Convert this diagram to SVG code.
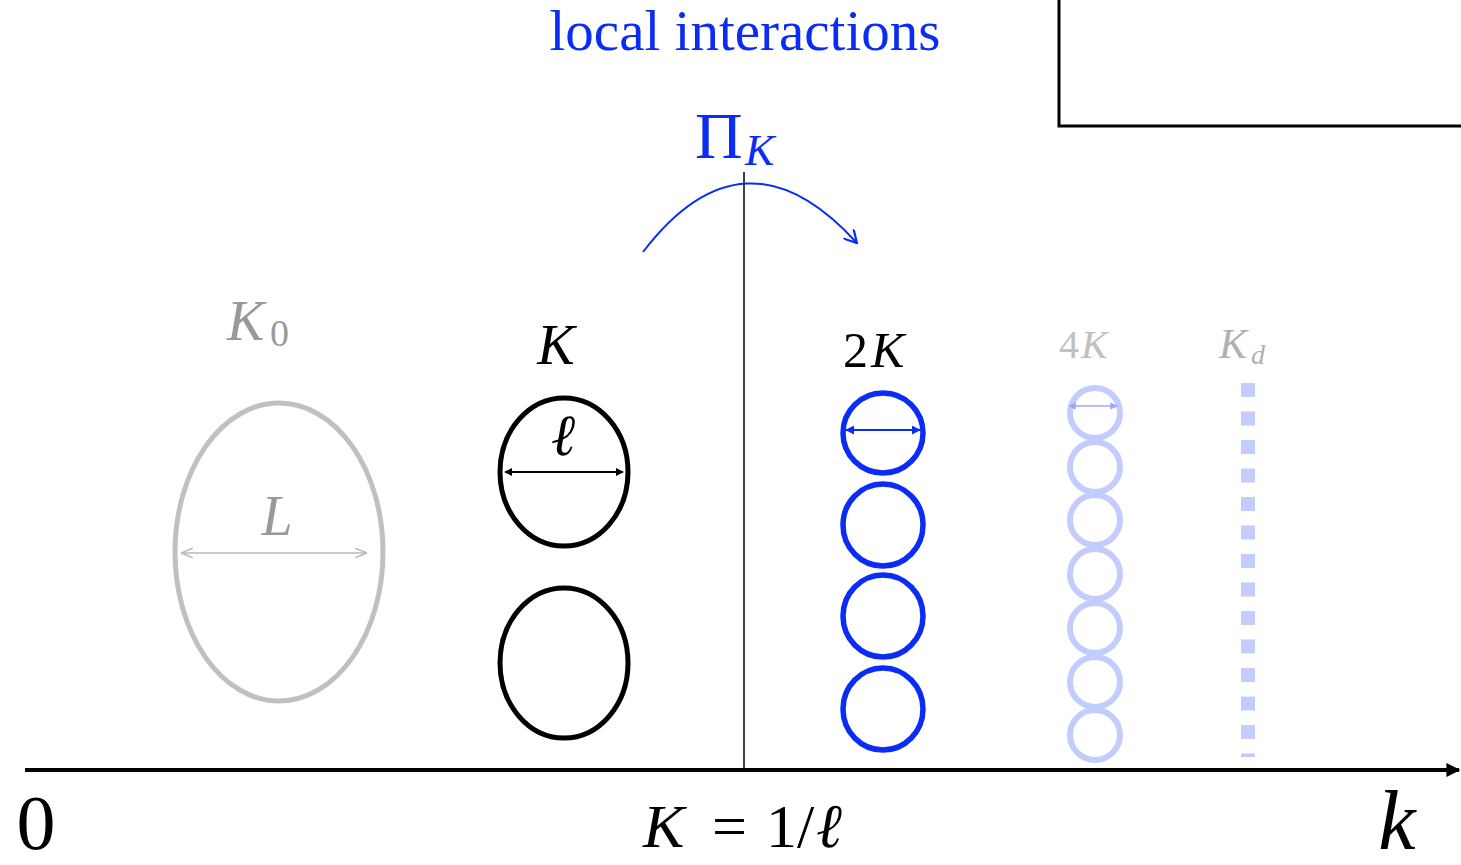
<svg xmlns="http://www.w3.org/2000/svg" width="1461" height="865" viewBox="0 0 1461 865">
<style>
.serif{font-family:"Liberation Serif","DejaVu Serif",serif}
.it{font-style:italic}
.grey{fill:#999}
.blue{fill:#0a2cf5}
</style>
<defs>
<marker id="ahBlack" viewBox="0 0 10 10" refX="9" refY="5" markerWidth="4" markerHeight="4" orient="auto-start-reverse"><path d="M0,0 L10,5 L0,10 z" fill="#000"/></marker>
<marker id="ahGrey" viewBox="0 0 10 10" refX="9" refY="5" markerWidth="8" markerHeight="8" orient="auto-start-reverse"><path d="M0,1 L10,5 L0,9" fill="none" stroke="#b8b8b8" stroke-width="1.2"/></marker>
<marker id="ahBlue" viewBox="0 0 10 10" refX="9" refY="5" markerWidth="4.5" markerHeight="4.5" orient="auto-start-reverse"><path d="M0,0 L10,5 L0,10 z" fill="#0a2cf5"/></marker>
<marker id="ahLight" viewBox="0 0 10 10" refX="9" refY="5" markerWidth="5" markerHeight="5" orient="auto-start-reverse"><path d="M0,0 L10,5 L0,10 z" fill="#9aa6ff"/></marker>
<marker id="ahArc" viewBox="0 0 10 10" refX="8" refY="5" markerWidth="7" markerHeight="7" orient="auto"><path d="M0,0 L9,5 L0,10" fill="none" stroke="#0a2cf5" stroke-width="1.6"/></marker>
<marker id="ahAxis" viewBox="0 0 10 10" refX="9" refY="5" markerWidth="3.5" markerHeight="3.5" orient="auto"><path d="M0,0 L10,5 L0,10 z" fill="#000"/></marker>
</defs>
<rect width="1461" height="865" fill="#fff"/>

<g id="title">
<text class="serif" x="745" y="50" font-size="57" text-anchor="middle" fill="#0a2cf5">local interactions</text>
</g>

<g id="box">
<rect x="1059" y="-10" width="420" height="136" fill="none" stroke="#000" stroke-width="3"/>
</g>

<g id="connectors">
<line x1="25" y1="770" x2="1459" y2="770" stroke="#000" stroke-width="4" marker-end="url(#ahAxis)"/>
<line x1="744" y1="172" x2="744" y2="770" stroke="#000" stroke-width="1.5"/>
<path d="M643,252 Q744,120 856,242" fill="none" stroke="#0a2cf5" stroke-width="2" marker-end="url(#ahArc)"/>
</g>

<g id="pik">
<text class="serif blue" x="695" y="158" font-size="66">Π</text>
<text class="serif it blue" x="745" y="165" font-size="44">K</text>
</g>

<g id="k0">
<text class="serif it grey" x="227" y="340" font-size="56">K</text>
<text class="serif grey" x="270" y="346" font-size="38">0</text>
<ellipse cx="279" cy="552" rx="104" ry="149" fill="none" stroke="#c0c0c0" stroke-width="5"/>
<line x1="182" y1="553" x2="366" y2="553" stroke="#b8b8b8" stroke-width="1.5" marker-start="url(#ahGrey)" marker-end="url(#ahGrey)"/>
<text class="serif it grey" x="277" y="535" font-size="56" text-anchor="middle">L</text>
</g>

<g id="kcells">
<text class="serif it" x="556" y="364" font-size="56" text-anchor="middle">K</text>
<ellipse cx="564" cy="472" rx="64" ry="74" fill="none" stroke="#000" stroke-width="5"/>
<line x1="505" y1="472" x2="623" y2="472" stroke="#000" stroke-width="2" marker-start="url(#ahBlack)" marker-end="url(#ahBlack)"/>
<text class="serif it" x="563" y="455" font-size="58" text-anchor="middle">ℓ</text>
<ellipse cx="564" cy="663" rx="64" ry="75" fill="none" stroke="#000" stroke-width="5"/>
</g>

<g id="k2cells">
<text class="serif" x="843" y="367" font-size="50">2<tspan class="it" dx="3">K</tspan></text>
<g fill="none" stroke="#0a2cf5" stroke-width="5.5">
<ellipse cx="883" cy="433" rx="40" ry="40"/>
<ellipse cx="883" cy="525" rx="40" ry="41"/>
<ellipse cx="883" cy="616" rx="40" ry="41"/>
<ellipse cx="883" cy="709" rx="40" ry="41"/>
</g>
<line x1="846" y1="430" x2="920" y2="430" stroke="#0a2cf5" stroke-width="2" marker-start="url(#ahBlue)" marker-end="url(#ahBlue)"/>
</g>

<g id="k4cells">
<text class="serif" x="1059" y="358" font-size="40" fill="#c0c0c0">4<tspan class="it" dx="2">K</tspan></text>
<g fill="none" stroke="#c2cdfd" stroke-width="6">
<circle cx="1095" cy="413" r="25"/>
<circle cx="1095" cy="467" r="25"/>
<circle cx="1095" cy="520" r="25"/>
<circle cx="1095" cy="574" r="25"/>
<circle cx="1095" cy="628" r="25"/>
<circle cx="1095" cy="682" r="25"/>
<circle cx="1095" cy="735" r="25"/>
</g>
<line x1="1069" y1="406" x2="1117" y2="406" stroke="#9aa6ff" stroke-width="1.5" marker-start="url(#ahLight)" marker-end="url(#ahLight)"/>
</g>

<g id="kd">
<text class="serif it" x="1219" y="358" font-size="42" fill="#b0b0b0">K</text>
<text class="serif it" x="1251" y="364" font-size="28" fill="#b0b0b0">d</text>
<line x1="1248" y1="383" x2="1248" y2="757" stroke="#c2cdfd" stroke-width="14" stroke-dasharray="14 14.5"/>
</g>

<g id="axislabels">
<text class="serif" x="36" y="849" font-size="78" text-anchor="middle">0</text>
<text class="serif it" x="1397" y="849" font-size="84" text-anchor="middle">k</text>
<text class="serif it" x="643" y="847" font-size="62">K</text>
<text class="serif" x="712" y="847" font-size="62">=</text>
<text class="serif" x="766" y="847" font-size="62">1/</text>
<text class="serif it" x="816" y="847" font-size="62">ℓ</text>
</g>
</svg>
